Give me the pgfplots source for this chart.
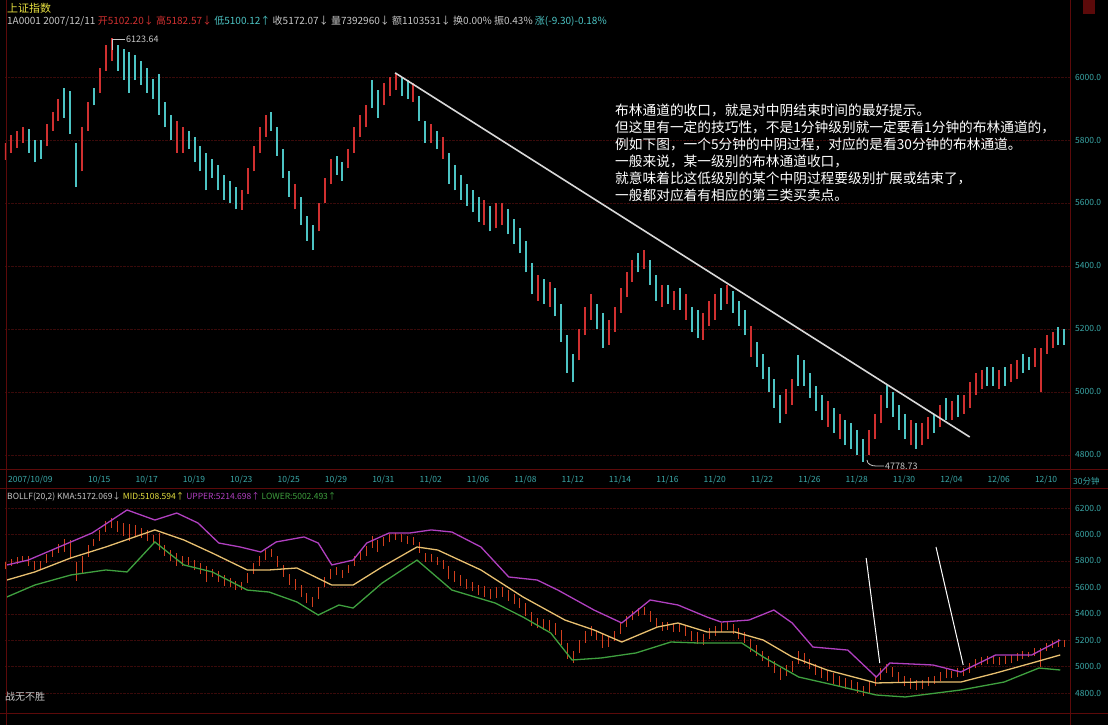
\documentclass[border=0pt]{standalone}
\usepackage{fontspec}
\setmainfont{Noto Sans CJK SC}
\usepackage{pgfplots}
\usepackage{pgfplotstable}
\pgfplotsset{compat=1.18}

\definecolor{frame}{HTML}{5C0A0A}
\definecolor{gridc}{HTML}{3A0A0A}
\definecolor{upred}{HTML}{D03030}
\definecolor{dncyan}{HTML}{4CC4C4}
\definecolor{lbl}{HTML}{3AA8A8}
\definecolor{ttl}{HTML}{E6E040}
\definecolor{hdrg}{HTML}{C8C8C8}
\definecolor{upc}{HTML}{B040C0}
\definecolor{midc}{HTML}{E8C070}
\definecolor{lowc}{HTML}{3FA03F}
\definecolor{lowbar}{HTML}{D2401E}
\definecolor{trend}{HTML}{D8D8D8}

% hourly candles, i = 4 x trading day (10/09 = day 0); columns: low, high
\pgfplotstableread{
i lo hi
2 5735 5790
3 5760 5815
4 5775 5830
5 5790 5840
9 5780 5850
10 5830 5890
11 5860 5930
15 5700 5840
16 5830 5920
18 5950 6030
19 6020 6100
20 6050 6124
31 5760 5860
32 5760 5840
42 5578 5640
43 5630 5710
44 5700 5780
45 5760 5840
46 5810 5880
51 5580 5660
55 5510 5600
56 5600 5680
57 5660 5740
60 5710 5770
61 5760 5840
62 5810 5880
63 5840 5910
66 5910 5980
67 5940 6000
68 5960 6010
71 5920 5980
74 5790 5850
76 5740 5810
83 5530 5610
85 5520 5600
86 5530 5600
92 5290 5370
94 5270 5350
99 5100 5200
100 5180 5270
101 5230 5310
104 5150 5230
105 5190 5270
106 5250 5330
107 5300 5380
108 5350 5420
110 5390 5450
113 5270 5340
115 5260 5320
117 5230 5310
120 5165 5250
121 5210 5290
122 5230 5310
124 5280 5340
128 5110 5210
134 4930 5010
135 4960 5040
141 4890 4970
143 4850 4930
148 4800 4880
149 4850 4930
150 4900 4990
155 4830 4910
157 4830 4900
158 4850 4920
160 4890 4960
162 4910 4970
164 4930 4990
165 4950 5030
166 4990 5060
167 5010 5070
170 5010 5070
172 5030 5090
173 5040 5100
176 5080 5140
177 5000 5140
178 5120 5180
179 5140 5190
}\redbars

\pgfplotstableread{
i lo hi
6 5760 5835
7 5730 5800
8 5740 5800
12 5870 5965
13 5820 5955
14 5650 5790
17 5910 5965
21 6020 6100
22 5990 6090
23 5950 6080
24 5990 6070
25 5975 6050
26 5950 6030
27 5930 5995
28 5880 6010
29 5840 5920
30 5800 5880
33 5770 5830
34 5730 5810
35 5700 5780
36 5640 5760
37 5680 5740
38 5640 5720
39 5610 5690
40 5600 5670
41 5580 5650
47 5830 5890
48 5750 5840
49 5680 5770
50 5620 5700
52 5530 5620
53 5480 5560
54 5450 5530
58 5690 5750
59 5670 5730
64 5900 5990
65 5870 5960
69 5940 6000
70 5930 5990
72 5860 5940
73 5790 5860
75 5770 5830
77 5660 5760
78 5640 5720
79 5610 5690
80 5590 5660
81 5570 5640
82 5540 5620
84 5510 5590
87 5500 5580
88 5470 5550
89 5440 5520
90 5380 5480
91 5310 5410
93 5280 5360
95 5240 5330
96 5160 5280
97 5060 5180
98 5030 5120
102 5200 5280
103 5140 5250
109 5380 5440
111 5340 5420
112 5290 5370
114 5280 5340
116 5260 5330
118 5190 5270
119 5170 5260
123 5260 5330
125 5250 5320
126 5210 5290
127 5180 5260
129 5080 5160
130 5040 5120
131 5000 5080
132 4950 5040
133 4900 4990
136 5020 5117
137 5020 5100
138 4980 5060
139 4940 5020
140 4910 4990
142 4870 4950
144 4830 4910
145 4820 4900
146 4800 4880
147 4779 4850
151 4950 5022
152 4920 5000
153 4880 4960
154 4850 4930
156 4820 4900
159 4870 4930
161 4910 4980
163 4920 4990
168 5020 5080
169 5020 5080
171 5020 5080
174 5060 5120
175 5070 5110
180 5150 5206
181 5150 5200
}\cyanbars

\pgfplotsset{
  kline/.style={
    scale only axis, width=1065pt,
    xmin=1.97, xmax=181.95,
    axis line style={draw=none}, major tick style={draw=none},
    ymajorgrids, grid style={densely dotted, draw=gridc},
    yticklabel pos=right, scaled y ticks=false,
    tick label style={font=\fontsize{8.5}{10}\selectfont, text=lbl},
    yticklabel style={anchor=west, inner sep=0pt, xshift=5pt,
      /pgf/number format/fixed, /pgf/number format/fixed zerofill,
      /pgf/number format/precision=1, /pgf/number format/1000 sep={},
      /pgf/number format/assume math mode=true},
  },
  % each candle is a vertical stroke from low to high
  candles/.style 2 args={color=#1, draw=#1, line width=#2, mark=none,
    quiver={u=0, v=\thisrow{hi}-\thisrow{lo}}},
}

\begin{document}
\begin{tikzpicture}
\useasboundingbox (0,0) rectangle (1108pt,725pt);
\fill[black] (0,0) rectangle (1108pt,725pt);

% Bollinger panel
\begin{axis}[kline, anchor=south west, at={(5pt,11pt)}, height=223pt,
  ymin=4641.2, ymax=6328.6, ytick={4800,5000,...,6200}, xtick=\empty,
]
\addplot[candles={lowbar}{1pt}] table[x=i, y=lo] \cyanbars;
\addplot[candles={lowbar}{1pt}] table[x=i, y=lo] \redbars;
\addplot[upc, line width=1.3pt] coordinates {(2.3,5769)(5.9,5806)(13.1,5943)(16.7,6011)(22.6,6185)(27.3,6109)(31.0,6162)(34.6,6086)(38.1,5935)(41.7,5905)(45.2,5867)(47.8,5943)(52.5,5981)(54.9,5935)(57.2,5769)(60.8,5806)(63.1,5935)(66.9,6011)(70.4,6011)(74.0,6034)(77.5,6018)(82.4,5905)(87.1,5678)(91.9,5655)(95.4,5579)(101.5,5428)(106.2,5330)(111.0,5504)(115.7,5466)(120.6,5375)(123.0,5337)(127.7,5352)(131.9,5428)(135.0,5330)(138.5,5148)(144.4,5125)(149.2,4921)(151.5,5027)(158.8,5012)(163.5,4959)(169.4,5088)(175.5,5088)(180.3,5201)};
\addplot[midc, line width=1.3pt] coordinates {(2.3,5655)(7.0,5716)(13.1,5822)(19.0,5905)(27.3,6034)(32.2,5958)(37.0,5859)(42.9,5731)(46.6,5731)(51.3,5746)(57.2,5617)(60.8,5617)(65.7,5754)(71.6,5905)(75.1,5882)(82.4,5731)(89.5,5527)(96.6,5352)(101.5,5277)(106.2,5186)(112.2,5299)(115.7,5330)(120.6,5262)(125.3,5262)(130.1,5201)(135.0,5073)(140.9,4974)(149.2,4876)(156.4,4883)(163.5,4883)(169.4,4951)(175.5,5027)(180.3,5088)};
\addplot[lowc, line width=1.3pt] coordinates {(2.3,5527)(7.0,5617)(13.1,5693)(19.0,5731)(22.6,5716)(27.3,5943)(32.2,5769)(37.0,5716)(42.9,5579)(46.6,5564)(51.3,5489)(54.9,5390)(58.4,5466)(60.8,5443)(65.7,5632)(71.6,5806)(77.5,5579)(84.8,5481)(89.5,5375)(94.2,5254)(97.8,5050)(102.7,5065)(108.6,5103)(114.5,5186)(119.4,5178)(126.5,5178)(130.1,5073)(136.1,4921)(142.1,4860)(149.2,4785)(154.1,4770)(163.5,4823)(170.8,4883)(176.7,4989)(180.3,4974)};
\addplot[white, line width=1pt] coordinates {(147.5,5822) (149.8,5027)};
\addplot[white, line width=1pt] coordinates {(159.3,5905) (163.9,5012)};
\end{axis}

% price panel
\begin{axis}[kline, anchor=south west, at={(5pt,255pt)}, height=440pt,
  ymin=4752.2, ymax=6149.2, ytick={4800,5000,...,6000},
  xtick={16,24,...,176},
  xticklabels={10/15,10/17,10/19,10/23,10/25,10/29,10/31,11/02,11/06,11/08,11/12,11/14,11/16,11/20,11/22,11/26,11/28,11/30,12/04,12/06,12/10},
  xticklabel style={anchor=north west, inner sep=0pt, yshift=-6pt},
]
\addplot[candles={upred}{2pt}] table[x=i, y=lo] \redbars;
\addplot[candles={dncyan}{2pt}] table[x=i, y=lo] \cyanbars;
\addplot[trend, line width=1.6pt] coordinates {(67.9,6013) (165.0,4857)};
\end{axis}

% frame
\begin{scope}[draw=frame, line width=1pt]
\draw (1070pt,0) -- (1070pt,725pt);
\draw (6pt,0) -- (6pt,725pt);
\draw (0,255pt) -- (1108pt,255pt);
\draw (0,236pt) -- (1108pt,236pt);
\draw (0,11pt) -- (1108pt,11pt);
\end{scope}
\fill[frame] (1083pt,711pt) rectangle (1095pt,725pt);

% header texts
\node[anchor=west, inner sep=0pt, text=ttl, font=\fontsize{11}{12}\selectfont] at (7pt,717pt) {上证指数};
\node[anchor=west, inner sep=0pt, font=\fontsize{10}{11}\selectfont] at (7pt,704pt)
  {\color{hdrg}1A0001 2007/12/11 \color{upred}开5102.20↓ 高5182.57↓ \color{dncyan}低5100.12↑ \color{hdrg}收5172.07↓ 量7392960↓ 额1103531↓ 换0.00\% 振0.43\% \color{dncyan}涨(-9.30)-0.18\%};
\node[anchor=west, inner sep=0pt, font=\fontsize{8.5}{10}\selectfont] at (7pt,228pt)
  {\color{hdrg}BOLLF(20,2) KMA:5172.069↓ \color{ttl}MID:5108.594↑ \color{upc}UPPER:5214.698↑ \color{lowc}LOWER:5002.493↑};
\node[anchor=north west, inner sep=0pt, text=lbl, font=\fontsize{8.5}{10}\selectfont] at (8pt,249pt) {2007/10/09};
\node[anchor=west, inner sep=0pt, text=lbl, font=\fontsize{8.5}{10}\selectfont] at (1073pt,244pt) {30分钟};
\node[anchor=west, inner sep=0pt, text=hdrg, font=\fontsize{10}{11}\selectfont] at (5pt,28pt) {战无不胜};

% extreme value marks
\draw[hdrg, line width=0.8pt] (112pt,675pt) -- (112pt,686pt) -- (125pt,686pt);
\node[anchor=west, inner sep=0pt, text=hdrg, font=\fontsize{9}{10}\selectfont] at (126pt,686pt) {6123.64};
\draw[hdrg, line width=0.8pt] (867pt,265pt) to[out=-90,in=180] (876pt,259pt) -- (884pt,259pt);
\node[anchor=west, inner sep=0pt, text=hdrg, font=\fontsize{9}{10}\selectfont] at (885pt,259pt) {4778.73};

% note
\node[anchor=north west, align=left, inner sep=0pt, text=white, font=\fontsize{13.7}{17}\selectfont] at (615pt,621pt)
  {布林通道的收口，就是对中阴结束时间的最好提示。\\
   但这里有一定的技巧性，不是1分钟级别就一定要看1分钟的布林通道的，\\
   例如下图，一个5分钟的中阴过程，对应的是看30分钟的布林通道。\\
   一般来说，某一级别的布林通道收口，\\
   就意味着比这低级别的某个中阴过程要级别扩展或结束了，\\
   一般都对应着有相应的第三类买卖点。};
\end{tikzpicture}
\end{document}
